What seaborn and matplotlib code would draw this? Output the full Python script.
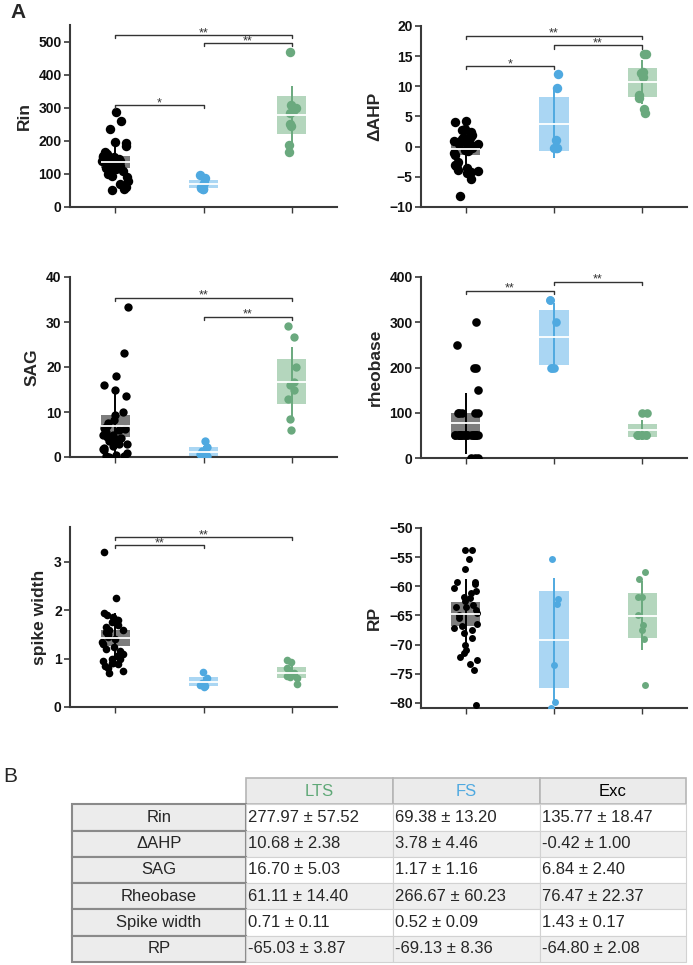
import numpy as np
import pandas as pd
import seaborn as sns
import matplotlib.pyplot as plt

# groups in plotting order (table shows them reversed)
groups = ["Exc", "FS", "LTS"]
point_colors = ["#000000", "#4fa9e0", "#6aa97e"]
box_colors = ["#7d7d7d", "#aad6f3", "#b4d6bd"]
header_colors = {"LTS": "#5fa877", "FS": "#4fa9e0", "Exc": "#000000"}

# individual cells
rin_exc = [288, 260, 235, 198, 195, 185, 165, 160, 155, 152, 150, 148, 145, 142, 140,
           140, 138, 135, 132, 130, 128, 125, 120, 118, 115, 110, 105, 100, 95, 90,
           80, 70, 60, 55, 52]
rin_fs = [96, 88, 72, 64, 60, 56, 55, 57]
rin_lts = [470, 310, 300, 290, 285, 250, 245, 188, 165]

ahp_exc = [4.2, 4.1, 3.0, 2.8, 2.5, 2.0, 2.0, 1.8, 1.5, 1.5, 1.2, 1.2, 1.0, 1.0, 1.0,
           0.8, 0.5, 0.5, 0.2, 0.0, -0.2, -0.5, -0.8, -1.0, -1.3, -2.5, -2.8, -3.0,
           -3.2, -3.5, -3.8, -4.0, -4.2, -4.3, -5.3, -8.1]
ahp_fs = [12.0, 9.8, 1.1, -0.2, -0.3, -0.2]
ahp_lts = [15.3, 15.3, 12.4, 12.2, 11.6, 8.6, 8.1, 6.3, 5.5]

sag_exc = [33.3, 23.2, 18.1, 16.0, 14.8, 13.5, 10.0, 9.3, 8.2, 7.5, 7.0, 6.5, 6.2,
           6.0, 5.5, 5.0, 5.0, 4.5, 4.2, 4.0, 3.8, 3.5, 3.0, 2.8, 2.5, 2.0, 1.8, 1.5,
           1.0, 0.5, 0.3, 0.2, 0.1]
sag_fs = [3.6, 2.2, 1.3, 0.6, 0.2, 0.0, 0.3]
sag_lts = [29.2, 26.7, 20.1, 16.6, 16.0, 15.0, 13.0, 8.4, 6.0]

rheo_exc = [300, 250, 200, 200, 150] + [100] * 5 + [50] * 21 + [0] * 3
rheo_fs = [350, 350, 300, 200, 200, 200]
rheo_lts = [100, 100, 50, 50, 50, 50, 50, 50, 50]

spike_exc = [3.2, 2.25, 1.95, 1.9, 1.85, 1.8, 1.8, 1.8, 1.75, 1.7, 1.65, 1.6, 1.6,
             1.55, 1.5, 1.45, 1.4, 1.35, 1.3, 1.25, 1.2, 1.15, 1.1, 1.05, 1.0, 1.0,
             0.95, 0.9, 0.9, 0.88, 0.85, 0.8, 0.75, 0.7]
spike_fs = [0.72, 0.6, 0.5, 0.45, 0.43, 0.42, 0.5]
spike_lts = [0.98, 0.92, 0.8, 0.75, 0.7, 0.65, 0.62, 0.6, 0.48]

rp_exc = [-53.7, -53.7, -55.3, -57.1, -59.2, -59.2, -59.6, -60.3, -60.8, -61.2,
          -61.8, -62.0, -62.5, -63.2, -63.5, -63.5, -64.0, -64.5, -65.0, -65.5,
          -66.5, -66.8, -67.2, -67.5, -68.0, -68.9, -70.0, -70.9, -71.5, -72.1,
          -72.6, -73.3, -74.4, -80.4]
rp_fs = [-55.3, -62.2, -63.0, -73.5, -79.9, -80.9]
rp_lts = [-57.6, -58.7, -61.8, -61.8, -65.0, -66.6, -67.5, -69.0, -77.0]

# summary values (Exc, FS, LTS), as in table B
rin_mean = [135.77, 69.38, 277.97]
rin_err = [18.47, 13.20, 57.52]
ahp_mean = [-0.42, 3.78, 10.68]
ahp_err = [1.00, 4.46, 2.38]
sag_mean = [6.84, 1.17, 16.70]
sag_err = [2.40, 1.16, 5.03]
rheo_mean = [76.47, 266.67, 61.11]
rheo_err = [22.37, 60.23, 14.40]
spike_mean = [1.43, 0.52, 0.71]
spike_err = [0.17, 0.09, 0.11]
rp_mean = [-64.80, -69.13, -65.03]
rp_err = [2.08, 8.36, 3.87]

table_rows = ["Rin", "\u0394AHP", "SAG", "Rheobase", "Spike width", "RP"]
table_cols = ["LTS", "FS", "Exc"]

W, H = 693, 965
sns.set_style("ticks")
plt.rcParams["font.family"] = ["Liberation Sans", "DejaVu Sans"]
np.random.seed(3)

fig = plt.figure(figsize=(W / 100, H / 100), dpi=100)


def px_axes(left, top, right, bottom):
    return fig.add_axes([left / W, 1 - bottom / H, (right - left) / W, (bottom - top) / H])


def bracket(ax, x1, x2, y, text):
    lo, hi = ax.get_ylim()
    h = (hi - lo) * 0.018
    ax.plot([x1, x1, x2, x2], [y - h, y, y, y - h], color="#333333", lw=1.0, zorder=5)
    ax.annotate(text, xy=((x1 + x2) / 2, y), xytext=(0, -3), textcoords="offset points",
                ha="center", va="bottom", fontsize=9, color="#333333")


panels = [
    dict(pts=[rin_exc, rin_fs, rin_lts], mean=rin_mean, err=rin_err, label="Rin",
         box=(70, 25, 337, 207), ylim=(0, 551), ticks=np.arange(0, 501, 100), size=6.8,
         brackets=[(0, 2, 521, "**"), (1, 2, 496, "**"), (0, 1, 309, "*")]),
    dict(pts=[ahp_exc, ahp_fs, ahp_lts], mean=ahp_mean, err=ahp_err, label="\u0394AHP",
         box=(421, 26, 687, 207), ylim=(-10, 20), ticks=np.arange(-10, 21, 5), size=6.8,
         brackets=[(0, 2, 18.4, "**"), (1, 2, 16.8, "**"), (0, 1, 13.4, "*")]),
    dict(pts=[sag_exc, sag_fs, sag_lts], mean=sag_mean, err=sag_err, label="SAG",
         box=(70, 277, 337, 457), ylim=(0, 40), ticks=np.arange(0, 41, 10), size=6,
         brackets=[(0, 2, 35.4, "**"), (1, 2, 31.2, "**")]),
    dict(pts=[rheo_exc, rheo_fs, rheo_lts], mean=rheo_mean, err=rheo_err, label="rheobase",
         box=(421, 277, 687, 458), ylim=(0, 400), ticks=np.arange(0, 401, 100), size=6.2,
         brackets=[(0, 1, 370, "**"), (1, 2, 390, "**")]),
    dict(pts=[spike_exc, spike_fs, spike_lts], mean=spike_mean, err=spike_err, label="spike width",
         box=(70, 527, 337, 707), ylim=(0, 3.72), ticks=[0, 1, 2, 3], size=5.5,
         brackets=[(0, 2, 3.51, "**"), (0, 1, 3.35, "**")]),
    dict(pts=[rp_exc, rp_fs, rp_lts], mean=rp_mean, err=rp_err, label="RP",
         box=(421, 528, 687, 708), ylim=(-80.86, -50), ticks=np.arange(-80, -49, 5), size=5,
         brackets=[]),
]

jitters = [0.15, 0.05, 0.06]
half = 0.165

for p in panels:
    ax = px_axes(*p["box"])
    for i, g in enumerate(groups):
        vals = p["pts"][i]
        sns.stripplot(x=[g] * len(vals), y=vals, order=groups, color=point_colors[i],
                      jitter=jitters[i], size=p["size"], linewidth=0, ax=ax, zorder=3)
    for i in range(3):
        m, e = p["mean"][i], p["err"][i]
        sd = np.std(p["pts"][i], ddof=1)
        ax.bar(i, 2 * e, bottom=m - e, width=2 * half, color=box_colors[i], linewidth=0, zorder=1)
        ax.vlines(i, m - sd, m + sd, color=point_colors[i], lw=1.4, zorder=2)
        ax.hlines(m, i - half, i + half, color="white", lw=1.3, zorder=4)
    ax.set_xlim(-0.51, 2.51)
    ax.set_ylim(*p["ylim"])
    ax.set_yticks(p["ticks"])
    ax.set_xticks([0, 1, 2])
    ax.set_xticklabels([])
    ax.set_xlabel("")
    ax.set_ylabel(p["label"], fontsize=12.5, fontweight="bold", labelpad=5)
    ax.tick_params(axis="y", labelsize=10, length=4, width=1.2, pad=2, colors="#3a3a3a",
                   labelcolor="#111111")
    ax.tick_params(axis="x", length=4, width=1.0, colors="#3a3a3a")
    for lab in ax.get_yticklabels():
        lab.set_fontweight("bold")
    sns.despine(ax=ax)
    for s in ["left", "bottom"]:
        ax.spines[s].set_linewidth(1.5)
        ax.spines[s].set_color("#3a3a3a")
    for x1, x2, y, t in p["brackets"]:
        bracket(ax, x1, x2, y, t)

fig.text(10 / W, 1 - 12 / H, "A", fontsize=15, fontweight="bold", va="center", ha="left")
fig.text(3 / W, 1 - 777 / H, "B", fontsize=15, va="center", ha="left")

# table B
means = [rin_mean, ahp_mean, sag_mean, rheo_mean, spike_mean, rp_mean]
errs = [rin_err, ahp_err, sag_err, rheo_err, spike_err, rp_err]
cell_text = [[""] + table_cols]
for r, name in enumerate(table_rows):
    row = [name]
    for c in table_cols:
        k = groups.index(c)
        row.append(f"{means[r][k]:.2f} \u00b1 {errs[r][k]:.2f}")
    cell_text.append(row)

tab_ax = px_axes(72, 778, 686, 962)
tab_ax.axis("off")
widths = np.array([174, 147, 147, 146]) / 614
tbl = tab_ax.table(cellText=cell_text, colWidths=list(widths), bbox=[0, 0, 1, 1], cellLoc="left")
tbl.auto_set_font_size(False)
for (r, c), cell in tbl.get_celld().items():
    cell.set_text_props(fontsize=12, family=["Liberation Sans", "DejaVu Sans"])
    if r == 0 and c == 0:
        cell.set_facecolor("white")
        cell.visible_edges = ""
    elif r == 0:
        cell.set_facecolor("#ebebeb")
        cell.set_edgecolor("#b5b5b5")
        cell.set_linewidth(1.2)
        cell.set_text_props(ha="center", color=header_colors[cell_text[0][c]])
    elif c == 0:
        cell.set_facecolor("#ececec")
        cell.set_edgecolor("#8a8a8a")
        cell.set_linewidth(1.5)
        cell.set_text_props(ha="center")
    else:
        cell.set_facecolor("white" if r % 2 == 1 else "#efefef")
        cell.set_edgecolor("#d2d2d2")
        cell.set_linewidth(0.8)
        cell.PAD = 0.015

fig.savefig("out.png", dpi=100)
